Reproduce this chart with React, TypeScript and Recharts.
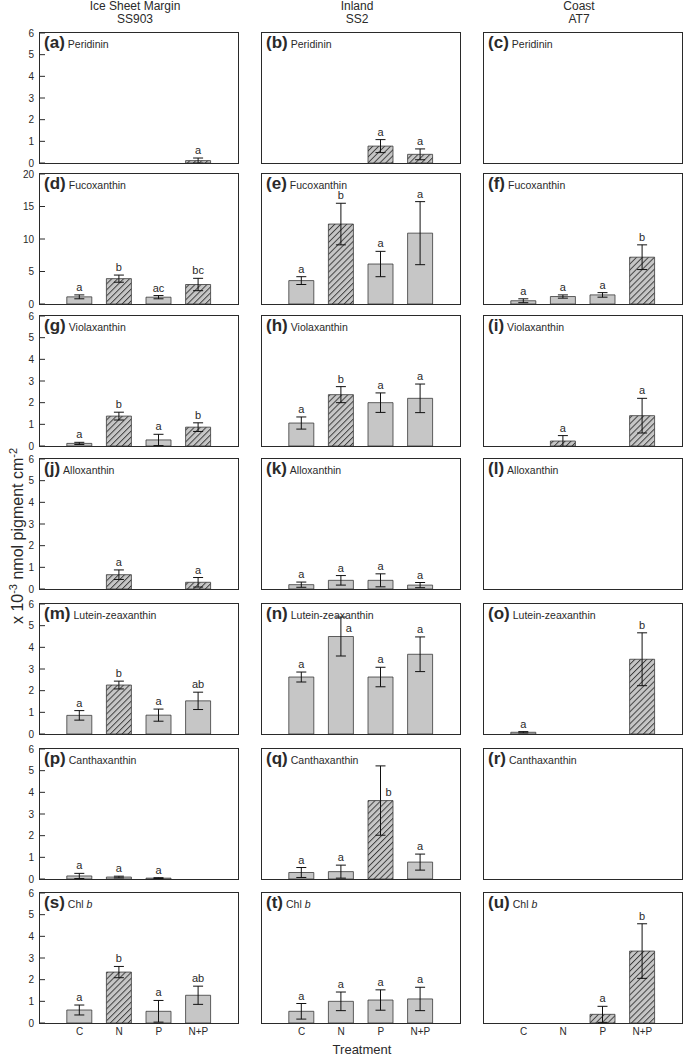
import React from "react";
import { BarChart, Bar, XAxis, YAxis, ErrorBar, Cell, LabelList } from "recharts";

const treatments = ["C", "N", "P", "N+P"];
const siteNames = ["Ice Sheet Margin", "Inland", "Coast"];
const siteCodes = ["SS903", "SS2", "AT7"];
const panelLetters = ["a", "b", "c", "d", "e", "f", "g", "h", "i", "j", "k", "l", "m", "n", "o", "p", "q", "r", "s", "t", "u"];
const pigmentNames = ["Peridinin", "Fucoxanthin", "Violaxanthin", "Alloxanthin", "Lutein-zeaxanthin", "Canthaxanthin", "Chl b"];
const yMaxByRow = [6, 20, 6, 6, 6, 6, 6];
const ticksSmall = [0, 1, 2, 3, 4, 5, 6];
const ticksLarge = [0, 5, 10, 15, 20];

// one inner list per site: SS903, SS2, AT7 (null = not detected)
const peridininMean = [[null, null, null, 0.11], [null, null, 0.78, 0.4], [null, null, null, null]];
const peridininErr = [[null, null, null, 0.12], [null, null, 0.3, 0.25], [null, null, null, null]];
const peridininLetters = [["", "", "", "a"], ["", "", "a", "a"], ["", "", "", ""]];
const peridininHatched = [[0, 0, 0, 1], [0, 0, 1, 1], [0, 0, 0, 0]];

const fucoxanthinMean = [[1.1, 3.9, 1.05, 3.0], [3.6, 12.3, 6.15, 10.9], [0.5, 1.15, 1.4, 7.2]];
const fucoxanthinErr = [[0.3, 0.55, 0.25, 0.95], [0.6, 3.2, 1.95, 4.85], [0.3, 0.25, 0.35, 1.9]];
const fucoxanthinLetters = [["a", "b", "ac", "bc"], ["a", "b", "a", "a"], ["a", "a", "a", "b"]];
const fucoxanthinHatched = [[0, 1, 0, 1], [0, 1, 0, 0], [0, 0, 0, 1]];

const violaxanthinMean = [[0.12, 1.38, 0.28, 0.87], [1.06, 2.37, 2.0, 2.2], [null, 0.23, null, 1.4]];
const violaxanthinErr = [[0.05, 0.18, 0.26, 0.2], [0.28, 0.37, 0.45, 0.66], [null, 0.25, null, 0.8]];
const violaxanthinLetters = [["a", "b", "a", "b"], ["a", "b", "a", "a"], ["", "a", "", "a"]];
const violaxanthinHatched = [[0, 1, 0, 1], [0, 1, 0, 0], [0, 1, 0, 1]];

const alloxanthinMean = [[null, 0.66, null, 0.31], [0.2, 0.4, 0.4, 0.18], [null, null, null, null]];
const alloxanthinErr = [[null, 0.22, null, 0.22], [0.12, 0.22, 0.3, 0.12], [null, null, null, null]];
const alloxanthinLetters = [["", "a", "", "a"], ["a", "a", "a", "a"], ["", "", "", ""]];
const alloxanthinHatched = [[0, 1, 0, 1], [0, 0, 0, 0], [0, 0, 0, 0]];

const luteinMean = [[0.86, 2.26, 0.87, 1.53], [2.63, 4.5, 2.63, 3.68], [0.08, null, null, 3.45]];
const luteinErr = [[0.22, 0.18, 0.28, 0.4], [0.23, 0.9, 0.45, 0.8], [0.03, null, null, 1.22]];
const luteinLetters = [["a", "b", "a", "ab"], ["a", "a", "a", "a"], ["a", "", "", "b"]];
const luteinHatched = [[0, 1, 0, 0], [0, 0, 0, 0], [0, 0, 0, 1]];

const canthaxanthinMean = [[0.14, 0.09, 0.04, null], [0.3, 0.34, 3.62, 0.78], [null, null, null, null]];
const canthaxanthinErr = [[0.12, 0.04, 0.02, null], [0.23, 0.3, 1.6, 0.37], [null, null, null, null]];
const canthaxanthinLetters = [["a", "a", "a", ""], ["a", "a", "b", "a"], ["", "", "", ""]];
const canthaxanthinHatched = [[0, 0, 0, 0], [0, 0, 1, 0], [0, 0, 0, 0]];

const chlbMean = [[0.6, 2.35, 0.54, 1.28], [0.54, 1.0, 1.06, 1.11], [null, null, 0.4, 3.32]];
const chlbErr = [[0.23, 0.26, 0.5, 0.42], [0.36, 0.43, 0.47, 0.54], [null, null, 0.37, 1.26]];
const chlbLetters = [["a", "b", "a", "ab"], ["a", "a", "a", "a"], ["", "", "a", "b"]];
const chlbHatched = [[0, 1, 0, 0], [0, 0, 0, 0], [0, 0, 1, 1]];

const means = [peridininMean, fucoxanthinMean, violaxanthinMean, alloxanthinMean, luteinMean, canthaxanthinMean, chlbMean];
const errs = [peridininErr, fucoxanthinErr, violaxanthinErr, alloxanthinErr, luteinErr, canthaxanthinErr, chlbErr];
const letters = [peridininLetters, fucoxanthinLetters, violaxanthinLetters, alloxanthinLetters, luteinLetters, canthaxanthinLetters, chlbLetters];
const hatched = [peridininHatched, fucoxanthinHatched, violaxanthinHatched, alloxanthinHatched, luteinHatched, canthaxanthinHatched, chlbHatched];

// layout
const COL_X = [40, 262, 484];
const ROW_Y = [33, 174, 316, 459, 604, 749, 893];
const PLOT_W = 198;
const PLOT_H = 130;
const AXIS_W = 32;
const M_TOP = 6;
const M_BOTTOM = 6;
const INK = "#2a2a2a";
const GREY = "#c6c6c6";
const FONT = "'Liberation Sans', Arial, Helvetica, sans-serif";

const Panel = ({ row, col }: { row: number; col: number }) => {
  const yMax = yMaxByRow[row];
  const isBottom = row === ROW_Y.length - 1;
  const xAxisH = isBottom ? 18 : 0;
  const data = treatments.map((t, i) => ({
    name: t,
    v: means[row][col][i],
    e: errs[row][col][i],
    lab: letters[row][col][i],
  }));
  const letter = panelLetters[row * 3 + col];
  const name = pigmentNames[row];

  const renderLetter = (p: any) => {
    const [lab, eStr] = String(p.value ?? "").split("|");
    if (!lab) return null;
    const e = Number(eStr) || 0;
    const x = Number(p.x);
    const y = Number(p.y);
    const w = Number(p.width);
    const cx = x + w / 2;
    const errTop = y - e * (PLOT_H / yMax);
    // labels that would run into the panel title sit beside the error bar
    if (errTop - M_TOP < 22) {
      return (
        <text x={cx + 8} y={y - 5} textAnchor="middle" fontSize={11} fill={INK}>
          {lab}
        </text>
      );
    }
    return (
      <text x={cx} y={errTop - 4} textAnchor="middle" fontSize={11} fill={INK}>
        {lab}
      </text>
    );
  };

  return (
    <>
      <div
        style={{
          position: "absolute",
          left: COL_X[col] - AXIS_W,
          top: ROW_Y[row] - M_TOP,
        }}
      >
        <BarChart
          width={AXIS_W + PLOT_W + 4}
          height={M_TOP + PLOT_H + xAxisH + M_BOTTOM}
          data={data}
          margin={{ top: M_TOP, right: 4, bottom: M_BOTTOM, left: 0 }}
          barCategoryGap={0}
        >
          <XAxis
            dataKey="name"
            padding={{ left: PLOT_W / 10, right: PLOT_W / 10 }}
            height={xAxisH}
            tick={isBottom ? { fontSize: 10, fill: INK } : false}
            tickLine={false}
            tickSize={0}
            tickMargin={5}
            axisLine={false}
            interval={0}
          />
          <YAxis
            domain={[0, yMax]}
            ticks={yMax === 20 ? ticksLarge : ticksSmall}
            interval={0}
            width={AXIS_W}
            tick={col === 0 ? { fontSize: 10, fill: INK } : false}
            tickLine={{ stroke: INK }}
            tickSize={-5}
            tickMargin={11}
            axisLine={false}
            allowDataOverflow
          />
          <Bar dataKey="v" barSize={25} stroke="#3a3a3a" strokeWidth={0.8} isAnimationActive={false}>
            {data.map((d, i) => (
              <Cell key={i} fill={hatched[row][col][i] ? "url(#hatch)" : GREY} />
            ))}
            <ErrorBar dataKey="e" width={5} stroke="#111" strokeWidth={1} direction="y" />
            <LabelList
              dataKey={(d: any) => (d && d.lab ? `${d.lab}|${d.e ?? 0}` : "")}
              content={renderLetter}
            />
          </Bar>
        </BarChart>
      </div>
      {/* panel frame */}
      <div
        style={{
          position: "absolute",
          left: COL_X[col] - 1,
          top: ROW_Y[row] - 1,
          width: PLOT_W + 2,
          height: PLOT_H + 2,
          border: `1px solid ${INK}`,
          boxSizing: "border-box",
          pointerEvents: "none",
        }}
      />
      {/* panel title */}
      <div
        style={{
          position: "absolute",
          left: COL_X[col] + 4,
          top: ROW_Y[row] + 1,
          whiteSpace: "nowrap",
          lineHeight: "18px",
        }}
      >
        <span style={{ fontSize: 17, fontWeight: "bold" }}>({letter})</span>
        <span style={{ fontSize: 10.5, marginLeft: 3 }}>
          {name === "Chl b" ? (
            <>
              Chl <i>b</i>
            </>
          ) : (
            name
          )}
        </span>
      </div>
    </>
  );
};

export default function App() {
  return (
    <div
      style={{
        position: "absolute",
        left: 0,
        top: 0,
        width: 685,
        height: 1058,
        background: "#fff",
        fontFamily: FONT,
        color: INK,
      }}
    >
      <svg width={0} height={0} style={{ position: "absolute" }}>
        <defs>
          <pattern id="hatch" patternUnits="userSpaceOnUse" width={4.2} height={4.2} patternTransform="rotate(45)">
            <rect x={0} y={0} width={4.2} height={4.2} fill={GREY} />
            <line x1={0.5} y1={0} x2={0.5} y2={4.2} stroke="#333" strokeWidth={0.9} />
          </pattern>
        </defs>
      </svg>

      {siteNames.map((s, c) => (
        <div
          key={s}
          style={{
            position: "absolute",
            left: COL_X[c] + PLOT_W / 2 - 100 - 4,
            top: 0,
            width: 200,
            textAlign: "center",
            fontSize: 12,
            lineHeight: "13px",
          }}
        >
          <div>{s}</div>
          <div>{siteCodes[c]}</div>
        </div>
      ))}

      {ROW_Y.map((_, r) =>
        COL_X.map((__, c) => <Panel key={`${r}-${c}`} row={r} col={c} />)
      )}

      <div
        style={{
          position: "absolute",
          left: 17,
          top: 536,
          transform: "translate(-50%, -50%) rotate(-90deg)",
          whiteSpace: "nowrap",
          fontSize: 16,
        }}
      >
        x 10<sup style={{ fontSize: 11 }}>-3</sup> nmol pigment cm<sup style={{ fontSize: 11 }}>-2</sup>
      </div>

      <div
        style={{
          position: "absolute",
          left: 362 - 60,
          top: 1042,
          width: 120,
          textAlign: "center",
          fontSize: 13,
        }}
      >
        Treatment
      </div>
    </div>
  );
}
